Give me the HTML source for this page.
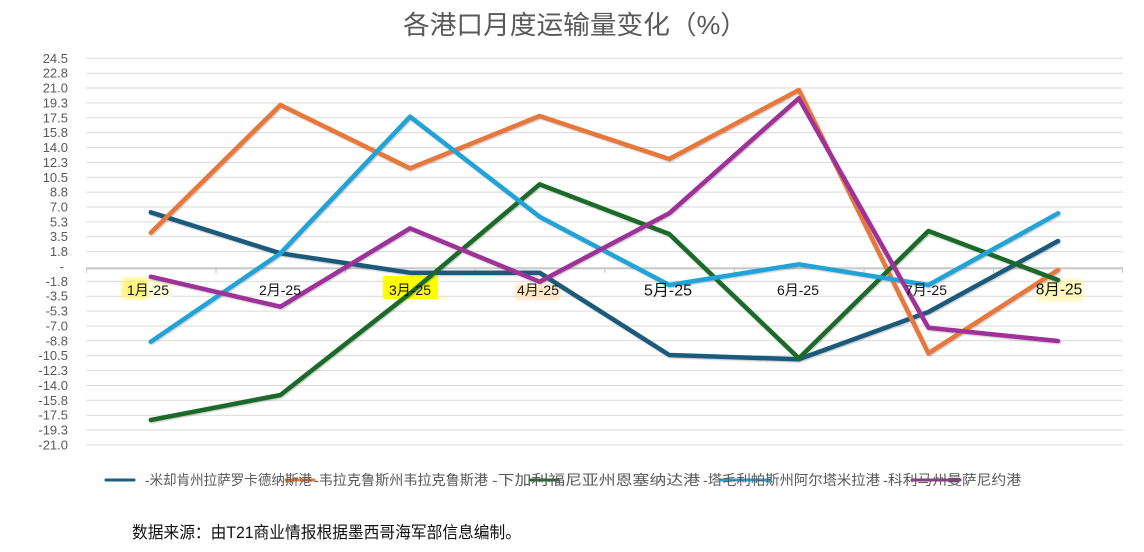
<!DOCTYPE html>
<html>
<head>
<meta charset="utf-8">
<style>
  html,body{margin:0;padding:0;background:#fff;}
  body{width:1144px;height:552px;overflow:hidden;}
  svg{display:block;}
  .yl{font-family:"Liberation Sans","Noto Sans CJK SC",sans-serif;font-size:13px;fill:#595959;}
  .cl{font-family:"Liberation Sans","Noto Sans CJK SC",sans-serif;font-size:14px;fill:#111;}
  .lg{font-family:"Liberation Sans","Noto Sans CJK SC",sans-serif;font-size:14px;fill:#595959;}
</style>
</head>
<body>
<svg width="1144" height="552" viewBox="0 0 1144 552" xmlns="http://www.w3.org/2000/svg">
  <defs>
    <filter id="sh" x="-5%" y="-5%" width="110%" height="110%">
      <feDropShadow dx="0.8" dy="1" stdDeviation="0.9" flood-color="#000" flood-opacity="0.25"/>
    </filter>
    <filter id="blur1"><feGaussianBlur stdDeviation="2"/></filter>
    <linearGradient id="fadeP" x1="0" x2="1" y1="0" y2="0">
      <stop offset="0" stop-color="#9e3399"/>
      <stop offset="0.55" stop-color="#9e3399"/>
      <stop offset="1" stop-color="#9e3399" stop-opacity="0"/>
    </linearGradient>
    <linearGradient id="fadeB" x1="0" x2="1" y1="0" y2="0">
      <stop offset="0" stop-color="#22a3d8"/>
      <stop offset="0.45" stop-color="#22a3d8"/>
      <stop offset="1" stop-color="#9fb6c6" stop-opacity="0.2"/>
    </linearGradient>
  </defs>

  <!-- Title -->
  <text x="403" y="34" font-family="'Liberation Sans','Noto Sans CJK SC',sans-serif" font-size="26" fill="#595959" textLength="344" lengthAdjust="spacingAndGlyphs">各港口月度运输量变化（%）</text>

  <!-- Gridlines -->
  <g stroke="#d9d9d9" stroke-width="1">
    <line x1="86" x2="1123" y1="58.3" y2="58.3"/>
    <line x1="86" x2="1123" y1="73.2" y2="73.2"/>
    <line x1="86" x2="1123" y1="88.0" y2="88.0"/>
    <line x1="86" x2="1123" y1="102.9" y2="102.9"/>
    <line x1="86" x2="1123" y1="117.8" y2="117.8"/>
    <line x1="86" x2="1123" y1="132.7" y2="132.7"/>
    <line x1="86" x2="1123" y1="147.5" y2="147.5"/>
    <line x1="86" x2="1123" y1="162.4" y2="162.4"/>
    <line x1="86" x2="1123" y1="177.3" y2="177.3"/>
    <line x1="86" x2="1123" y1="192.1" y2="192.1"/>
    <line x1="86" x2="1123" y1="207.0" y2="207.0"/>
    <line x1="86" x2="1123" y1="221.9" y2="221.9"/>
    <line x1="86" x2="1123" y1="236.7" y2="236.7"/>
    <line x1="86" x2="1123" y1="251.6" y2="251.6"/>
    <line x1="86" x2="1123" y1="281.4" y2="281.4"/>
    <line x1="86" x2="1123" y1="296.2" y2="296.2"/>
    <line x1="86" x2="1123" y1="311.1" y2="311.1"/>
    <line x1="86" x2="1123" y1="326.0" y2="326.0"/>
    <line x1="86" x2="1123" y1="340.8" y2="340.8"/>
    <line x1="86" x2="1123" y1="355.7" y2="355.7"/>
    <line x1="86" x2="1123" y1="370.6" y2="370.6"/>
    <line x1="86" x2="1123" y1="385.5" y2="385.5"/>
    <line x1="86" x2="1123" y1="400.3" y2="400.3"/>
    <line x1="86" x2="1123" y1="415.2" y2="415.2"/>
    <line x1="86" x2="1123" y1="430.1" y2="430.1"/>
    <line x1="86" x2="1123" y1="444.9" y2="444.9"/>
  </g>

  <!-- Zero axis -->
  <g stroke="#c9c9c9">
    <line x1="86" x2="1123" y1="268.3" y2="268.3" stroke-width="2.2"/>
    <line x1="86.5" x2="86.5" y1="268" y2="273" stroke-width="1.2"/>
    <line x1="216" x2="216" y1="268" y2="273" stroke-width="1.2"/>
    <line x1="345.6" x2="345.6" y1="268" y2="273" stroke-width="1.2"/>
    <line x1="475.2" x2="475.2" y1="268" y2="273" stroke-width="1.2"/>
    <line x1="604.8" x2="604.8" y1="268" y2="273" stroke-width="1.2"/>
    <line x1="734.4" x2="734.4" y1="268" y2="273" stroke-width="1.2"/>
    <line x1="864" x2="864" y1="268" y2="273" stroke-width="1.2"/>
    <line x1="993.6" x2="993.6" y1="268" y2="273" stroke-width="1.2"/>
    <line x1="1122.5" x2="1122.5" y1="268" y2="273" stroke-width="1.2"/>
  </g>

  <!-- Y labels -->
  <g class="yl" text-anchor="end" dominant-baseline="central">
    <text x="68" y="58.3">24.5</text>
    <text x="68" y="73.2">22.8</text>
    <text x="68" y="88.0">21.0</text>
    <text x="68" y="102.9">19.3</text>
    <text x="68" y="117.8">17.5</text>
    <text x="68" y="132.7">15.8</text>
    <text x="68" y="147.5">14.0</text>
    <text x="68" y="162.4">12.3</text>
    <text x="68" y="177.3">10.5</text>
    <text x="68" y="192.1">8.8</text>
    <text x="68" y="207.0">7.0</text>
    <text x="68" y="221.9">5.3</text>
    <text x="68" y="236.7">3.5</text>
    <text x="68" y="251.6">1.8</text>
    <text x="64" y="266.5">-</text>
    <text x="68" y="281.4">-1.8</text>
    <text x="68" y="296.2">-3.5</text>
    <text x="68" y="311.1">-5.3</text>
    <text x="68" y="326.0">-7.0</text>
    <text x="68" y="340.8">-8.8</text>
    <text x="68" y="355.7">-10.5</text>
    <text x="68" y="370.6">-12.3</text>
    <text x="68" y="385.5">-14.0</text>
    <text x="68" y="400.3">-15.8</text>
    <text x="68" y="415.2">-17.5</text>
    <text x="68" y="430.1">-19.3</text>
    <text x="68" y="444.9">-21.0</text>
  </g>

  <!-- highlight glitches behind category labels -->
  <rect x="122" y="278" width="26" height="21" fill="#fff36a" opacity="0.85" filter="url(#blur1)"/>
  <rect x="148" y="280" width="24" height="18" fill="#fffbd0" opacity="0.8"/>
  <rect x="383" y="276" width="55" height="23" fill="#ffff00"/>
  <rect x="515" y="284" width="45" height="16" fill="#ffd9a0" opacity="0.6" filter="url(#blur1)"/>
  <rect x="1037" y="279" width="46" height="22" fill="#fff6a8" opacity="0.75" filter="url(#blur1)"/>

  <!-- Series -->
  <g fill="none" stroke-width="4.5" stroke-linejoin="round" stroke-linecap="round" filter="url(#sh)">
    <polyline stroke="#1d5a7c" points="150.8,212.3 280.4,253.3 410,272.7 539.6,272.7 669.2,355 798.8,359.3 928.4,312 1058,241"/>
    <polyline stroke="#e8773a" points="150.8,232.7 280.4,105 410,168.3 539.6,116 669.2,159 798.8,90 928.4,353.3 1058,270"/>
    <polyline stroke="#1f6b2a" points="150.8,420 280.4,395 410,293.3 539.6,184.3 669.2,234 798.8,358.3 928.4,231 1058,280"/>
    <polyline stroke="#22a3d8" points="150.8,341.7 280.4,253.3 410,116.7 539.6,216.7 669.2,285 798.8,264.3 928.4,285 1058,213.3"/>
    <polyline stroke="#9e3399" points="150.8,276.7 280.4,306.7 410,228.3 539.6,281.7 669.2,213.3 798.8,98.3 928.4,327.7 1058,341"/>
  </g>

  <!-- Category labels -->
  <g class="cl" text-anchor="middle" dominant-baseline="central">
    <text x="148" y="290">1月-25</text>
    <text x="280" y="290">2月-25</text>
    <text x="410" y="290">3月-25</text>
    <text x="538" y="290">4月-25</text>
    <text x="668" y="291" font-size="16">5月-25</text>
    <text x="798" y="290">6月-25</text>
    <text x="926" y="290">7月-25</text>
    <text x="1059" y="290" font-size="15.5">8月-25</text>
  </g>

  <!-- Legend swatches -->
  <g stroke-width="4" stroke-linecap="round" filter="url(#blur1)" opacity="0.9">
    <line x1="104" x2="136" y1="480" y2="480" stroke="#1d5a7c"/>
    <line x1="282" x2="318" y1="480" y2="480" stroke="#e8773a"/>
    <line x1="528" x2="560" y1="480" y2="480" stroke="#1f6b2a"/>
    <line x1="560" x2="614" y1="480" y2="480" stroke="#5b7fa0"/>
    <line x1="718" x2="880" y1="480" y2="480" stroke="url(#fadeB)"/>
    <line x1="910" x2="1052" y1="480" y2="480" stroke="url(#fadeP)"/>
  </g>
  <g stroke-width="3" stroke-linecap="round">
    <line x1="106" x2="134" y1="480" y2="480" stroke="#1d5a7c"/>
    <line x1="286" x2="314" y1="480" y2="480" stroke="#e8773a"/>
    <line x1="530" x2="558" y1="480" y2="480" stroke="#1f6b2a"/>
    <line x1="720" x2="770" y1="480" y2="480" stroke="#22a3d8"/>
    <line x1="912" x2="960" y1="480" y2="480" stroke="#9e3399"/>
  </g>

  <!-- Legend text -->
  <g class="lg">
    <text x="145" y="485" textLength="167" lengthAdjust="spacingAndGlyphs">-米却肯州拉萨罗卡德纳斯港</text>
    <text x="314" y="485" textLength="174" lengthAdjust="spacingAndGlyphs">-韦拉克鲁斯州韦拉克鲁斯港</text>
    <text x="492" y="485" textLength="208" lengthAdjust="spacingAndGlyphs">-下加利福尼亚州恩塞纳达港</text>
    <text x="703" y="485" textLength="177" lengthAdjust="spacingAndGlyphs">-塔毛利帕斯州阿尔塔米拉港</text>
    <text x="883" y="485" textLength="138" lengthAdjust="spacingAndGlyphs">-科利马州曼萨尼约港</text>
  </g>

  <!-- Source -->
  <text x="132" y="538" font-family="'Liberation Sans','Noto Sans CJK SC',sans-serif" font-size="16.5" fill="#111" textLength="389" lengthAdjust="spacingAndGlyphs">数据来源：由T21商业情报根据墨西哥海军部信息编制。</text>
</svg>
</body>
</html>
